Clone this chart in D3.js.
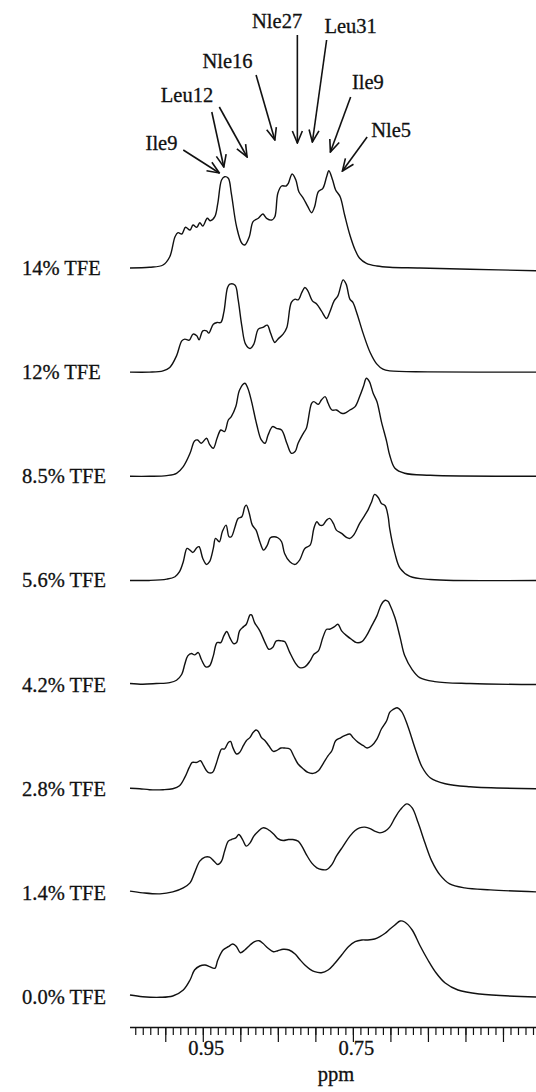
<!DOCTYPE html>
<html>
<head>
<meta charset="utf-8">
<script src="https://cdn.jsdelivr.net/npm/d3@7"></script>
<style>
  html, body { margin: 0; padding: 0; background: #fff; }
  svg { display: block; }
  text { font-family: "Liberation Serif", "DejaVu Serif", serif; fill: #111; stroke: #111; stroke-width: 0.3; }
</style>
</head>
<body>
<svg id="chart"></svg>
<script>
// stacked 1H NMR spectra (methyl region) at increasing TFE

const conditions = ["14% TFE", "12% TFE", "8.5% TFE", "5.6% TFE", "4.2% TFE", "2.8% TFE", "1.4% TFE", "0.0% TFE"];

// [ppm, intensity]
const tfe140 = [[1.047,0],[1.021,0.7],[1.003,3],[0.994,11.3],[0.987,31.3],[0.983,35.3],[0.978,34],[0.973,40.7],[0.967,38],[0.963,43],[0.958,40.7],[0.954,45.3],[0.950,42],[0.944,49.7],[0.940,47.3],[0.934,51.3],[0.930,64.7],[0.925,88],[0.921,91.3],[0.916,89.7],[0.912,74.7],[0.905,41.3],[0.898,24.7],[0.894,23],[0.888,31.3],[0.883,46.3],[0.876,49.7],[0.870,54],[0.865,49.7],[0.858,48],[0.854,51.3],[0.850,74.7],[0.845,82],[0.839,82],[0.836,84.7],[0.831,94],[0.826,88],[0.822,76.3],[0.816,69.7],[0.810,61.3],[0.805,55.3],[0.801,61.3],[0.796,76.3],[0.790,79.7],[0.785,91.3],[0.782,97.3],[0.777,88],[0.773,78],[0.767,71.3],[0.761,53],[0.754,33],[0.747,18],[0.741,9.7],[0.732,4.7],[0.718,2],[0.701,0.7],[0.661,0],[0.594,-1.3],[0.506,-2.7]];
const tfe120 = [[1.047,0],[1.021,0],[1.003,1.3],[0.994,4.7],[0.985,16.3],[0.978,31.3],[0.974,33],[0.968,32],[0.963,38],[0.958,36.3],[0.955,32.3],[0.950,41.3],[0.945,41.3],[0.942,39],[0.936,48],[0.931,49.7],[0.926,49.7],[0.922,59.7],[0.917,84.7],[0.914,88],[0.907,87],[0.903,73],[0.898,46.3],[0.893,28],[0.887,23.7],[0.882,28],[0.876,43],[0.870,44.7],[0.864,47],[0.860,39.7],[0.854,29.7],[0.850,33],[0.843,38],[0.838,44.7],[0.832,69.7],[0.827,73],[0.823,72.3],[0.818,79.7],[0.814,84.7],[0.810,81.3],[0.804,71.3],[0.798,68],[0.792,61.3],[0.785,53.7],[0.781,59.7],[0.775,71.3],[0.770,76.3],[0.763,92.3],[0.759,88],[0.754,73],[0.750,69.7],[0.745,59.7],[0.736,38],[0.727,19.7],[0.718,8],[0.710,3],[0.701,1.3],[0.650,0.3],[0.506,0]];
const tfe085 = [[1.047,0],[1.021,0],[0.998,0.7],[0.985,3],[0.976,9.7],[0.967,23],[0.961,35.3],[0.957,36.3],[0.952,33],[0.945,38],[0.941,32],[0.936,28],[0.931,38],[0.926,46.3],[0.921,44.7],[0.916,56.3],[0.912,59.7],[0.906,69.7],[0.901,86.3],[0.894,93],[0.890,88],[0.885,74.7],[0.878,51.3],[0.872,36.3],[0.867,33],[0.863,41.3],[0.857,49.7],[0.852,48],[0.845,46.3],[0.838,33],[0.832,23],[0.827,24.7],[0.823,33],[0.816,43],[0.812,48],[0.805,73],[0.802,74.7],[0.796,72],[0.792,76.3],[0.787,79.7],[0.783,73],[0.778,66.3],[0.772,66.3],[0.765,63],[0.761,63],[0.754,66.3],[0.747,69.7],[0.741,79.7],[0.736,89.7],[0.732,98],[0.728,94.7],[0.723,83],[0.718,74.7],[0.712,54.7],[0.705,34.7],[0.701,21.3],[0.694,8],[0.681,3],[0.647,1],[0.506,0]];
const tfe056 = [[1.047,0],[1.021,0],[0.998,1.3],[0.987,3.7],[0.981,8.7],[0.976,18.7],[0.971,32],[0.967,30.3],[0.963,28],[0.958,32.7],[0.955,33.7],[0.950,22],[0.945,16],[0.941,18.7],[0.936,32],[0.933,42],[0.928,38.7],[0.924,48.7],[0.919,55.3],[0.915,43.7],[0.912,43.7],[0.907,53.7],[0.903,62],[0.898,63.7],[0.894,73.7],[0.892,75.3],[0.888,67],[0.884,55.3],[0.879,50.3],[0.874,38.7],[0.869,30.3],[0.864,35.3],[0.860,42.7],[0.855,43.7],[0.850,42.7],[0.845,38.7],[0.841,27],[0.834,18.7],[0.827,16],[0.821,20.3],[0.814,32],[0.807,35.3],[0.802,52],[0.798,58.7],[0.794,55.3],[0.790,55.3],[0.785,60.3],[0.781,62],[0.776,57],[0.772,50.3],[0.765,47],[0.758,42.7],[0.754,42],[0.749,45.3],[0.741,57],[0.734,65.3],[0.730,70.3],[0.725,78.7],[0.721,86],[0.716,82.7],[0.712,77],[0.707,74.7],[0.703,63.7],[0.701,52],[0.694,27],[0.687,12],[0.674,4],[0.647,1],[0.506,0]];
const tfe042 = [[1.047,1],[1.030,0.3],[1.012,1],[0.994,2],[0.985,4.3],[0.978,10.3],[0.974,20.3],[0.970,28.7],[0.965,31],[0.961,29.7],[0.956,32],[0.952,25.3],[0.946,17.7],[0.941,18.7],[0.936,28.7],[0.931,42],[0.926,42],[0.922,48.7],[0.918,53],[0.914,47],[0.909,41],[0.905,42],[0.901,53.7],[0.896,57.7],[0.892,60.3],[0.887,69.7],[0.885,69.7],[0.881,62],[0.874,53.7],[0.867,42],[0.862,35.3],[0.857,37],[0.852,43.7],[0.845,43.7],[0.841,43],[0.834,32],[0.827,22],[0.821,17],[0.814,17.7],[0.807,23.7],[0.802,30.3],[0.796,33.7],[0.790,47],[0.785,55.3],[0.781,55.3],[0.775,57.7],[0.770,60.3],[0.765,53.7],[0.758,48.7],[0.752,45.3],[0.745,42],[0.738,43],[0.732,48.7],[0.725,58.7],[0.718,68.7],[0.712,80.3],[0.707,84.3],[0.703,83],[0.701,80.3],[0.694,67],[0.687,47],[0.681,29],[0.671,15],[0.661,7],[0.641,3],[0.594,1],[0.506,0]];
const tfe028 = [[1.047,0.5],[1.034,0],[1.021,-1],[1.003,-1],[0.990,0],[0.981,3],[0.974,11.3],[0.968,21.3],[0.964,26.3],[0.958,26.3],[0.953,28],[0.949,23],[0.943,16.3],[0.937,16.3],[0.933,23],[0.928,34.7],[0.925,39.7],[0.921,39.7],[0.916,46.3],[0.913,47.3],[0.910,41.3],[0.905,34.7],[0.901,36.3],[0.896,43],[0.892,48],[0.887,51.3],[0.883,56.3],[0.879,58.7],[0.876,57.3],[0.872,51.3],[0.867,48],[0.862,43],[0.856,37.3],[0.852,38],[0.846,40.7],[0.841,40.7],[0.834,39.7],[0.829,33],[0.823,24.7],[0.816,19.7],[0.810,16.3],[0.803,15.3],[0.796,18],[0.790,24.7],[0.783,33],[0.778,38],[0.773,48],[0.767,50.7],[0.761,53],[0.754,54.7],[0.750,51.3],[0.743,46.3],[0.736,43],[0.731,40.7],[0.725,43],[0.718,49.7],[0.712,59.7],[0.705,68],[0.701,76.3],[0.697,79],[0.691,81],[0.685,77],[0.677,63],[0.667,40],[0.658,22],[0.647,11],[0.627,5],[0.594,2],[0.506,0]];
const tfe014 = [[1.047,1.7],[1.030,0],[1.007,-1],[0.990,1],[0.976,5],[0.967,10],[0.961,20],[0.954,31.7],[0.947,35.7],[0.941,35.7],[0.935,31.7],[0.930,28.3],[0.925,31.7],[0.921,41.7],[0.916,51.7],[0.912,53.3],[0.906,55],[0.902,58.3],[0.897,53.3],[0.892,46.7],[0.887,50],[0.882,56.7],[0.876,61.7],[0.870,65],[0.865,64.3],[0.861,62.3],[0.855,58.3],[0.850,54.3],[0.843,52.3],[0.836,53.3],[0.830,53.3],[0.823,51.7],[0.818,46.7],[0.812,38.3],[0.805,30],[0.798,25],[0.792,23.3],[0.785,23.3],[0.778,28.3],[0.772,36.7],[0.763,46.7],[0.754,56.7],[0.747,62.3],[0.741,65],[0.734,65.7],[0.727,64.3],[0.721,61.7],[0.714,60],[0.707,61.7],[0.701,65.7],[0.694,75],[0.687,83],[0.678,89],[0.671,85],[0.663,70],[0.654,50],[0.645,32],[0.634,18],[0.621,9],[0.601,5],[0.567,3],[0.506,1]];
const tfe000 = [[1.047,2],[1.030,0.3],[1.007,-0.3],[0.990,1],[0.976,7],[0.967,17],[0.961,27],[0.954,31],[0.947,32],[0.941,30.3],[0.934,28.7],[0.930,37],[0.923,47],[0.916,50.3],[0.910,53],[0.905,50.3],[0.900,44.3],[0.894,47],[0.887,52],[0.881,55.3],[0.875,56.3],[0.870,53.7],[0.863,48.7],[0.856,45.3],[0.850,46.3],[0.843,47.7],[0.835,47],[0.827,43],[0.821,37.7],[0.814,32],[0.807,27.7],[0.801,25.3],[0.792,24.3],[0.783,27],[0.774,33.7],[0.765,42],[0.756,50.3],[0.747,55.3],[0.738,57],[0.730,57],[0.721,58],[0.714,60.3],[0.707,63.7],[0.701,67.7],[0.694,72],[0.687,76],[0.681,75],[0.671,67],[0.661,52],[0.650,37],[0.639,24],[0.627,14],[0.610,7],[0.581,3],[0.506,0]];

const spectra = [tfe140, tfe120, tfe085, tfe056, tfe042, tfe028, tfe014, tfe000];

// residue assignments on the top (14% TFE) spectrum
// label ppm/height, arrow tail ppm/height, arrow tip ppm/height
const peakNames = ["Ile9", "Leu12", "Leu12", "Nle16", "Nle27", "Leu31", "Ile9", "Nle5"];
const labelAt = [[1.005, 118], [0.971, 166], null, [0.917, 200], [0.851, 240], [0.753, 235], [0.730, 179], [0.699, 131]];
const arrowFrom = [[0.976, 118], [0.938, 156], [0.928, 161], [0.879, 193], [0.824, 233], [0.785, 228], [0.753, 171], [0.731, 131]];
const arrowTo = [[0.928, 95], [0.922, 101], [0.891, 111], [0.854, 128], [0.824, 125], [0.804, 126], [0.780, 116], [0.764, 97]];

const majorTicks = [1.00, 0.95, 0.90, 0.85, 0.80, 0.75, 0.70, 0.65, 0.60, 0.55];
const tickLabels = { "0.95": "0.95", "0.75": "0.75" };
const axisTitle = "ppm";

const W = 536, H = 1092;
const FS = 20.5;
const svg = d3.select('#chart').attr('width', W).attr('height', H);

const x = d3.scaleLinear().domain([1.047, 0.506]).range([130, 536]);
const row = d3.scalePoint().domain(conditions).range([268, 997]);
const amp = d3.scaleLinear().domain([0, 100]).range([0, -100]);

const line = d3.line()
  .x(d => x(d[0]))
  .y(d => amp(d[1]))
  .curve(d3.curveCatmullRom.alpha(0.5));

const rows = svg.append('g').selectAll('g')
  .data(conditions)
  .enter()
  .append('g')
  .attr('transform', d => `translate(0,${row(d)})`);

rows.append('path')
  .attr('d', (d, i) => line(spectra[i]))
  .attr('fill', 'none')
  .attr('stroke', '#111')
  .attr('stroke-width', 1.4);

rows.append('text')
  .attr('x', 22)
  .attr('y', 7)
  .attr('font-size', FS)
  .text(d => d);

// arrows
const defs = svg.append('defs');
defs.append('marker')
  .attr('id', 'head')
  .attr('markerUnits', 'userSpaceOnUse')
  .attr('markerWidth', 15).attr('markerHeight', 15)
  .attr('viewBox', '-14 -7 15 14')
  .attr('refX', 0).attr('refY', 0)
  .attr('orient', 'auto')
  .append('path')
  .attr('d', 'M-12,-5 L0,0 L-12,5')
  .attr('fill', 'none')
  .attr('stroke', '#111')
  .attr('stroke-width', 1.6);

const topRow = svg.append('g').attr('transform', `translate(0,${row(conditions[0])})`);
peakNames.forEach((name, i) => {
  topRow.append('line')
    .attr('x1', x(arrowFrom[i][0])).attr('y1', amp(arrowFrom[i][1]))
    .attr('x2', x(arrowTo[i][0])).attr('y2', amp(arrowTo[i][1]))
    .attr('stroke', '#111')
    .attr('stroke-width', 1.6)
    .attr('marker-end', 'url(#head)');
  if (labelAt[i]) {
    topRow.append('text')
      .attr('x', x(labelAt[i][0]))
      .attr('y', amp(labelAt[i][1]))
      .attr('text-anchor', 'middle')
      .attr('font-size', FS)
      .text(name);
  }
});

// ppm axis
const axisY = 1027;
const minor = d3.range(51, 105).map(v => v / 100);
svg.append('g')
  .attr('transform', `translate(0,${axisY})`)
  .call(d3.axisBottom(x).tickValues(minor).tickSize(8).tickFormat(''))
  .call(g => g.select('.domain').remove());
const major = svg.append('g')
  .attr('transform', `translate(0,${axisY})`)
  .call(d3.axisBottom(x).tickValues(majorTicks).tickSize(15).tickSizeOuter(0)
    .tickFormat(d => tickLabels[d.toFixed(2)] || ''));
major.select('.domain').attr('d', `M130,0.5H536`).attr('stroke', '#111').attr('stroke-width', 1.6);
major.selectAll('.tick text')
  .attr('font-family', '"Liberation Serif", serif')
  .attr('font-size', FS)
  .attr('fill', '#111')
  .attr('dx', 3)
  .attr('dy', 10);
svg.selectAll('.tick line').attr('stroke', '#111').attr('stroke-width', 1.2);

svg.append('text')
  .attr('x', 336)
  .attr('y', 1081)
  .attr('text-anchor', 'middle')
  .attr('font-size', FS)
  .text(axisTitle);
</script>
</body>
</html>
